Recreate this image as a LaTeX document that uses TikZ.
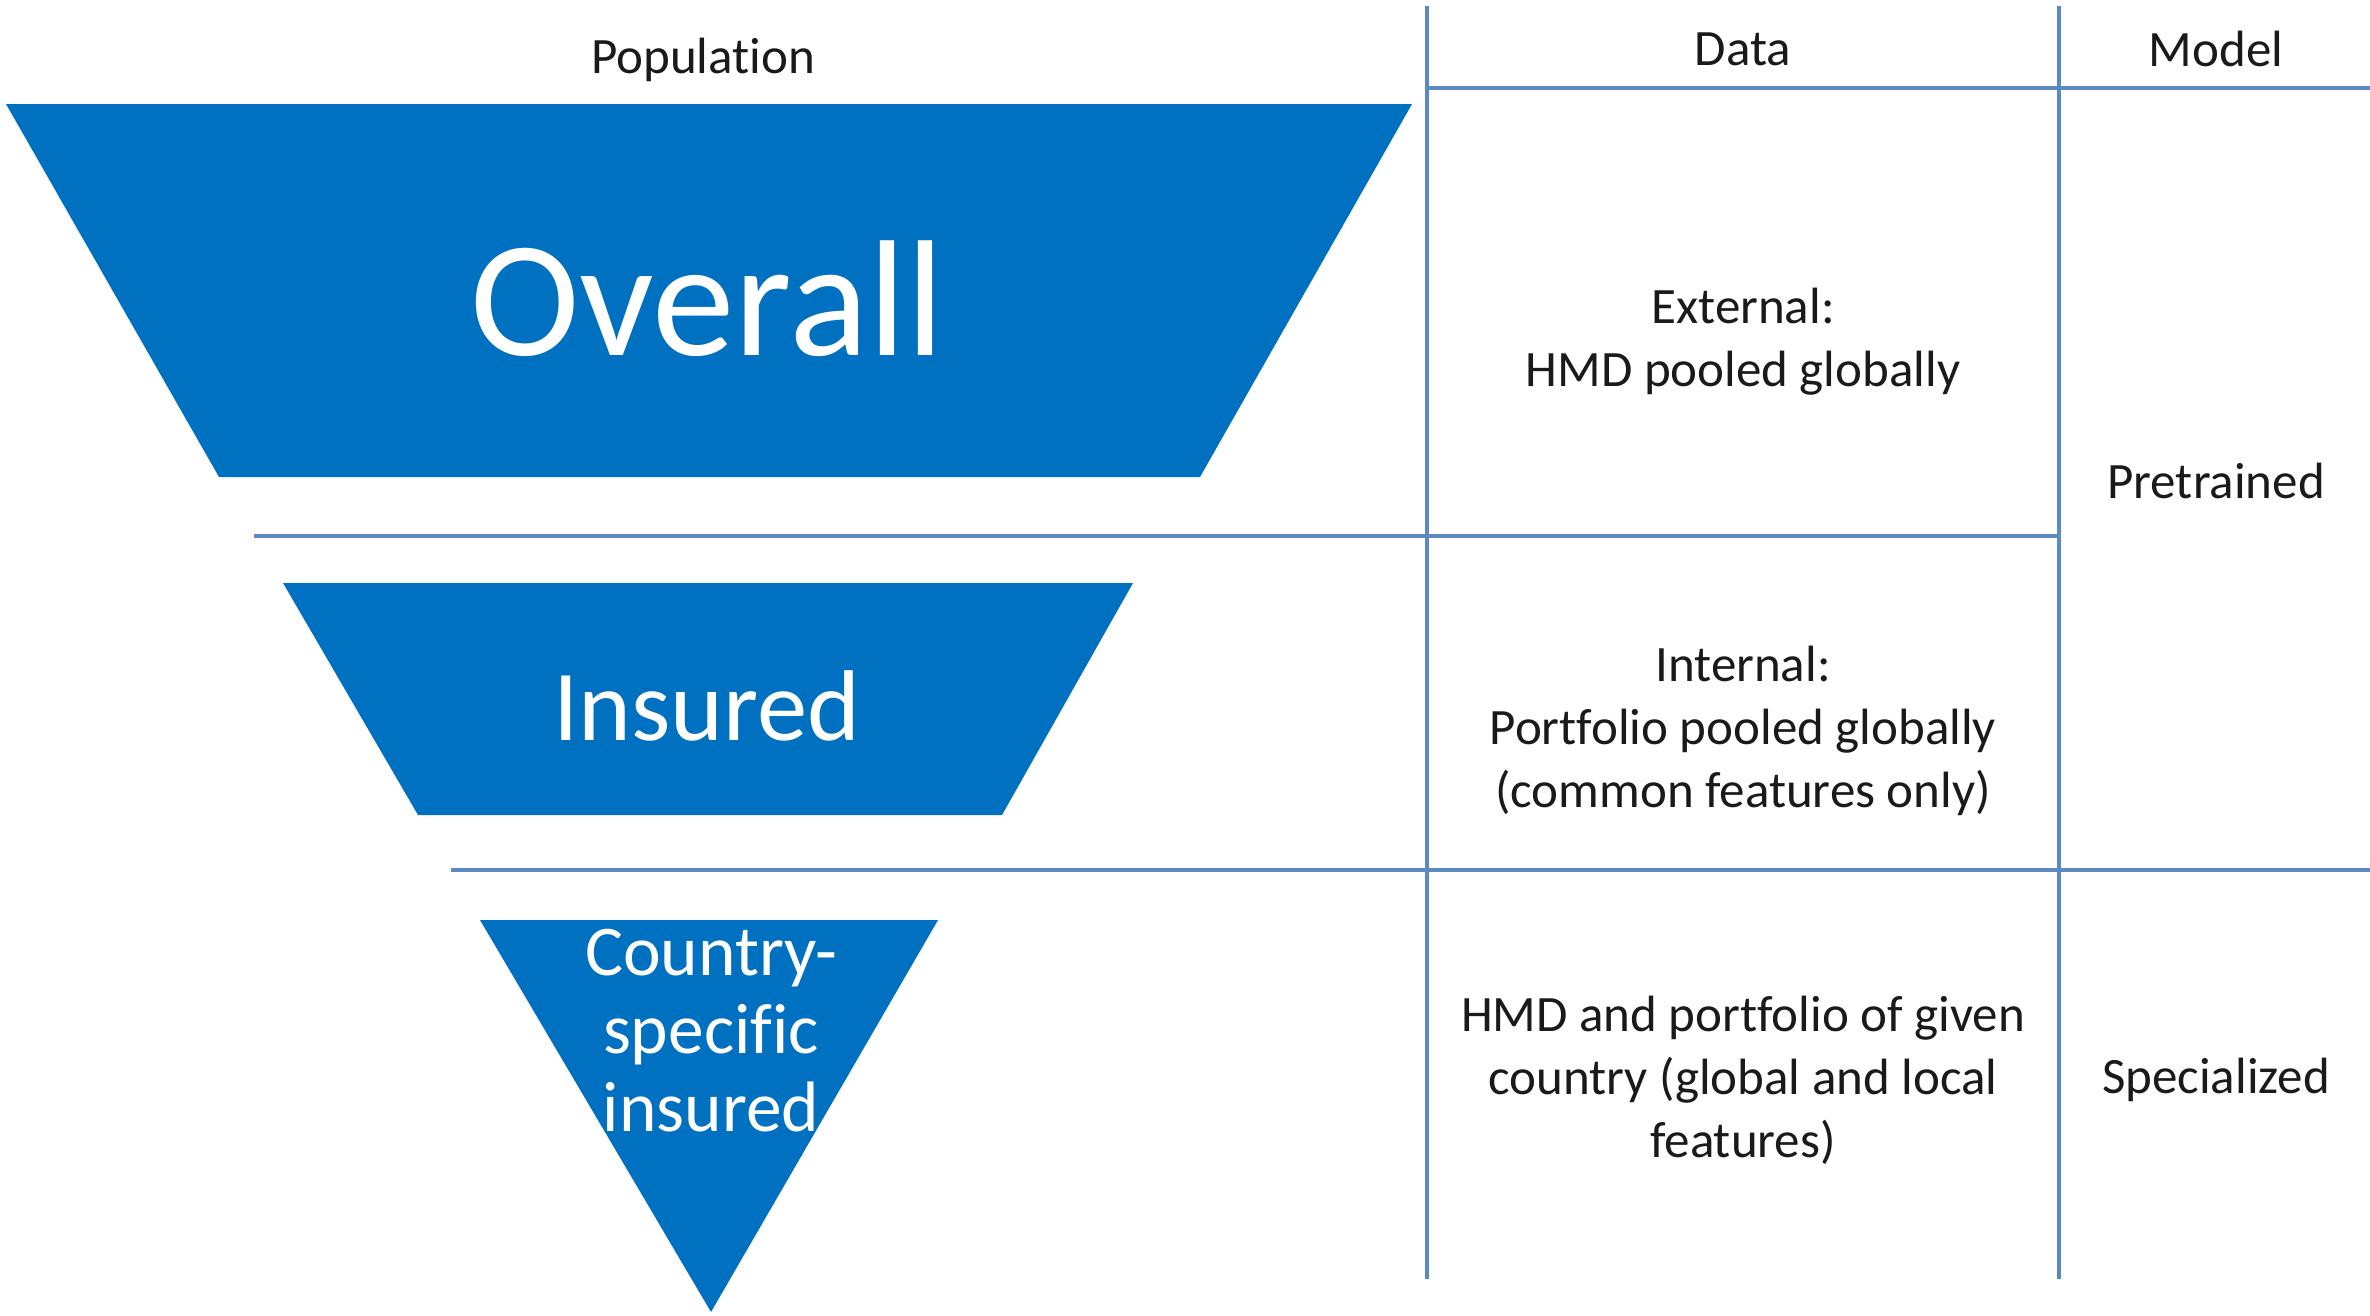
\documentclass[tikz,border=0pt]{standalone}
\usepackage{fontspec}
\setmainfont[Ligatures={CommonOff,RequiredOff},Contextuals=AlternateOff]{Carlito}
\definecolor{funnel}{HTML}{0070C0}
\definecolor{rule}{HTML}{5A8AC0}
\definecolor{ink}{HTML}{1A1A1A}
\newcommand{\nl}{\kern0pt{}}
\begin{document}
\begin{tikzpicture}[x=0.01cm,y=-0.01cm,
  shapefill/.style={fill=funnel,draw=none},
  gridline/.style={draw=rule,line width=0.9pt},
  small/.style={text=ink,font=\fontsize{14.5}{17.9}\selectfont,align=center,inner sep=0pt},
  big/.style={text=white,align=center,inner sep=0pt}]
\useasboundingbox (0,0) rectangle (2370,1315);
% funnel shapes
\fill[shapefill] (6,104) -- (1412,104) -- (1200,477) -- (219,477) -- cycle;
\fill[shapefill] (283,583) -- (1133,583) -- (1002,815) -- (418,815) -- cycle;
\fill[shapefill] (480,920) -- (938,920) -- (711,1312) -- cycle;
% grid lines
\draw[gridline] (1427,6) -- (1427,1279);
\draw[gridline] (2059,6) -- (2059,1279);
\draw[gridline] (1427,88) -- (2370,88);
\draw[gridline] (254,536) -- (2059,536);
\draw[gridline] (451,870) -- (2370,870);
% headers
\node[small] (pop) at (703,60) {Populat\nl ion};
\node[small] (data) at (1743,49) {Data};
\node[small] (model) at (2216,49) {Model};
% funnel labels
\node[big,font=\fontsize{47}{50}\selectfont] (overall) at (707,299) {Overall};
\node[big,font=\fontsize{28.6}{32}\selectfont] (insured) at (707,706) {Insured};
\node[big,font=\fontsize{20.3}{22.2}\selectfont] (country) at (711,1031) {Country-\\specif\nl ic\\insured};
% data column
\node[small] (ext) at (1743,342) {External:\\HMD pooled globally};
\node[small] (int) at (1743,731) {Internal:\\Port\nl fol\nl io pooled globally\\(common features only)};
\node[small] (hmd) at (1743,1080) {HMD and port\nl fol\nl io of given\\country (global and local\\features)};
% model column
\node[small] (pre) at (2216,481) {Pretrained};
\node[small] (spec) at (2216,1080) {Specialized};
\end{tikzpicture}
\end{document}
